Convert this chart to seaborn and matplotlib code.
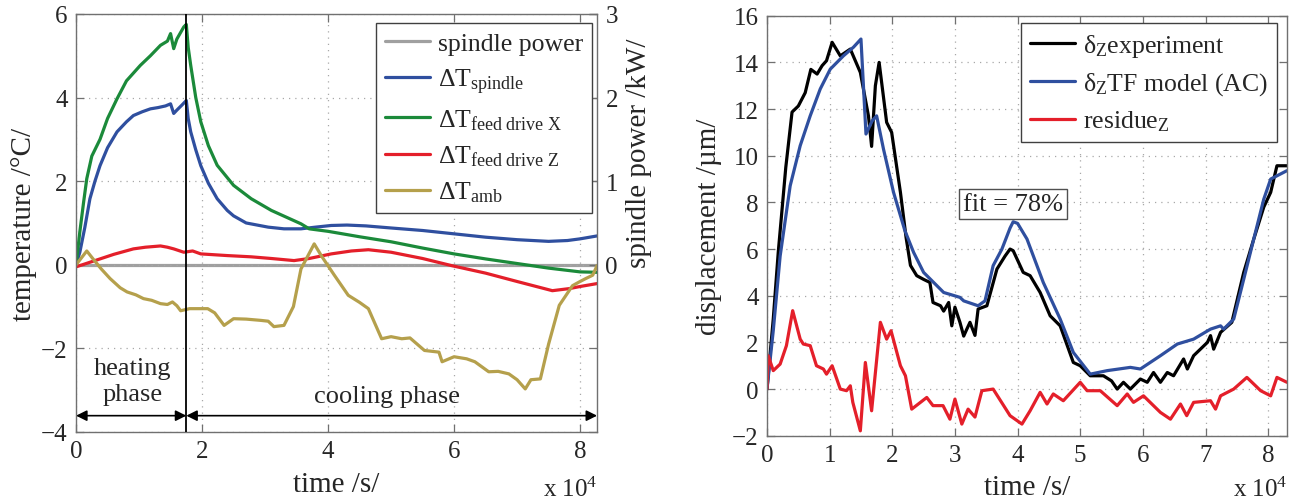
import matplotlib
matplotlib.use("Agg")
import matplotlib.pyplot as plt
import seaborn as sns

sns.set_style("ticks")
plt.rcParams["font.family"] = ["Liberation Serif", "DejaVu Serif"]
plt.rcParams["mathtext.fontset"] = "custom"
plt.rcParams["mathtext.rm"] = "Liberation Serif"
plt.rcParams["mathtext.it"] = "Liberation Serif:italic"

# ---- left panel: temperatures (time in 1e4 s) ----
power_t = [0, 8.3]
power_kw = [0, 0]

spindle_t = [0, 0.06, 0.14, 0.22, 0.3, 0.38, 0.5, 0.65, 0.8, 0.91, 1.05, 1.18, 1.3, 1.42, 1.5,
             1.55, 1.6, 1.68, 1.75, 1.78, 1.82, 1.9, 1.98, 2.1, 2.24, 2.4, 2.5, 2.7, 3.05, 3.3,
             3.57, 3.8, 4.05, 4.3, 4.6, 5.0, 5.5, 6.0, 6.5, 7.0, 7.5, 7.8, 8.0, 8.27]
spindle_dT = [0, 0.3, 0.9, 1.58, 2.0, 2.37, 2.8, 3.18, 3.42, 3.57, 3.66, 3.73, 3.76, 3.8, 3.85,
              3.62, 3.7, 3.82, 3.93, 3.5, 3.18, 2.75, 2.37, 1.95, 1.58, 1.3, 1.17, 1.0, 0.9, 0.86,
              0.86, 0.9, 0.94, 0.95, 0.93, 0.88, 0.82, 0.74, 0.66, 0.6, 0.56, 0.58, 0.62, 0.69]

feedx_t = [0, 0.06, 0.12, 0.17, 0.25, 0.38, 0.5, 0.65, 0.8, 1.02, 1.18, 1.34, 1.45, 1.5, 1.55,
           1.6, 1.71, 1.75, 1.78, 1.82, 1.9, 1.98, 2.1, 2.24, 2.5, 2.78, 3.1, 3.57, 3.7, 4.0,
           4.5, 5.0, 5.5, 6.0, 6.5, 7.0, 7.5, 8.0, 8.27]
feedx_dT = [0, 0.79, 1.5, 2.06, 2.6, 3.0, 3.5, 3.97, 4.4, 4.77, 5.0, 5.25, 5.35, 5.53, 5.17,
            5.4, 5.69, 5.75, 5.2, 4.77, 4.0, 3.42, 2.85, 2.38, 1.9, 1.58, 1.3, 0.98, 0.86, 0.8,
            0.67, 0.55, 0.4, 0.26, 0.14, 0.03, -0.08, -0.17, -0.18]

feedz_t = [0, 0.2, 0.38, 0.6, 0.91, 1.1, 1.34, 1.45, 1.55, 1.71, 1.85, 1.98, 2.4, 2.78, 3.1,
           3.46, 3.7, 4.05, 4.37, 4.64, 5.0, 5.5, 5.96, 6.5, 7.0, 7.56, 7.83, 8.0, 8.27]
feedz_dT = [-0.05, 0.05, 0.14, 0.25, 0.38, 0.42, 0.45, 0.42, 0.38, 0.3, 0.33, 0.26, 0.22, 0.19,
            0.15, 0.1, 0.15, 0.26, 0.33, 0.36, 0.3, 0.15, -0.02, -0.2, -0.4, -0.62, -0.57,
            -0.52, -0.45]

amb_t = [0, 0.17, 0.27, 0.4, 0.54, 0.7, 0.81, 0.95, 1.07, 1.2, 1.34, 1.45, 1.53, 1.6, 1.66,
         1.8, 2.09, 2.2, 2.35, 2.5, 2.7, 2.93, 3.05, 3.14, 3.3, 3.45, 3.57, 3.78, 3.9, 4.1,
         4.32, 4.5, 4.64, 4.85, 5.0, 5.17, 5.3, 5.53, 5.76, 5.81, 6.0, 6.2, 6.33, 6.55, 6.7,
         6.87, 7.0, 7.13, 7.22, 7.37, 7.5, 7.67, 7.88, 8.0, 8.09, 8.2, 8.27]
amb_dT = [0, 0.33, 0.14, -0.1, -0.33, -0.55, -0.65, -0.72, -0.81, -0.85, -0.93, -0.95, -0.89,
          -0.98, -1.1, -1.05, -1.05, -1.15, -1.45, -1.29, -1.3, -1.33, -1.35, -1.48, -1.45,
          -1.0, -0.1, 0.5, 0.2, -0.25, -0.73, -0.9, -1.05, -1.77, -1.72, -1.77, -1.75, -2.05,
          -2.09, -2.32, -2.2, -2.25, -2.32, -2.56, -2.55, -2.61, -2.75, -2.97, -2.75, -2.73,
          -1.9, -0.97, -0.5, -0.4, -0.33, -0.25, -0.02]

# ---- right panel: displacement (time in 1e4 s) ----
exp_t = [0, 0.1, 0.18, 0.3, 0.4, 0.5, 0.61, 0.7, 0.8, 0.88, 0.95, 1.04, 1.17, 1.33, 1.49, 1.62,
         1.67, 1.73, 1.79, 1.91, 1.99, 2.13, 2.22, 2.29, 2.39, 2.5, 2.6, 2.65, 2.77, 2.82, 2.9,
         2.95, 3.0, 3.08, 3.14, 3.19, 3.24, 3.32, 3.37, 3.51, 3.67, 3.8, 3.88, 3.93, 4.09, 4.2,
         4.36, 4.52, 4.68, 4.89, 5.0, 5.16, 5.37, 5.5, 5.59, 5.69, 5.8, 5.96, 6.07, 6.17, 6.28,
         6.39, 6.49, 6.65, 6.71, 6.81, 7.03, 7.08, 7.13, 7.24, 7.42, 7.61, 7.77, 7.93, 8.04,
         8.14, 8.3]
exp_um = [0, 3.0, 5.87, 9.5, 11.87, 12.13, 12.7, 13.7, 13.5, 13.86, 14.07, 14.86, 14.28, 14.57,
          13.57, 11.7, 10.4, 13.0, 14.0, 11.43, 11.0, 8.43, 6.5, 5.3, 4.86, 4.7, 4.57, 3.71,
          3.57, 3.34, 3.71, 2.71, 3.51, 2.86, 2.27, 2.57, 2.86, 2.3, 3.43, 3.57, 5.14, 5.7, 6.0,
          5.93, 5.0, 4.86, 4.14, 3.14, 2.71, 1.14, 1.0, 0.57, 0.57, 0.35, 0.0, 0.29, 0.0, 0.43,
          0.29, 0.71, 0.29, 0.71, 0.57, 1.29, 0.86, 1.43, 2.0, 2.29, 1.71, 2.43, 2.86, 5.0,
          6.43, 7.8, 8.43, 9.57, 9.57]

model_t = [0, 0.1, 0.21, 0.37, 0.53, 0.69, 0.85, 1.01, 1.22, 1.38, 1.5, 1.58, 1.68, 1.75, 1.86,
           2.02, 2.2, 2.34, 2.5, 2.82, 3.08, 3.14, 3.37, 3.48, 3.61, 3.75, 3.88, 3.93, 4.0, 4.15,
           4.41, 4.68, 4.89, 5.16, 5.43, 5.8, 5.96, 6.28, 6.55, 6.81, 7.08, 7.24, 7.29, 7.45,
           7.61, 7.77, 7.93, 8.04, 8.3]
model_um = [0, 2.5, 5.7, 8.71, 10.43, 11.71, 12.86, 13.71, 14.28, 14.65, 15.0, 10.93, 11.5,
            11.71, 10.28, 8.43, 6.8, 5.86, 5.0, 4.14, 3.93, 3.78, 3.57, 3.78, 5.29, 6.0, 6.9,
            7.17, 7.1, 6.43, 4.57, 3.0, 1.57, 0.64, 0.79, 0.93, 0.86, 1.43, 1.93, 2.14, 2.57,
            2.71, 2.57, 3.0, 4.71, 6.43, 8.14, 9.0, 9.36]

res_t = [0, 0.02, 0.1, 0.21, 0.31, 0.41, 0.53, 0.58, 0.69, 0.79, 0.9, 0.95, 1.04, 1.17, 1.27,
         1.33, 1.37, 1.49, 1.57, 1.67, 1.81, 1.91, 1.98, 2.13, 2.21, 2.31, 2.55, 2.65, 2.81,
         2.92, 3.0, 3.11, 3.21, 3.32, 3.43, 3.61, 3.88, 4.07, 4.2, 4.36, 4.47, 4.57, 4.73, 5.0,
         5.11, 5.32, 5.59, 5.75, 5.85, 6.01, 6.28, 6.44, 6.6, 6.7, 6.81, 7.08, 7.16, 7.24,
         7.45, 7.66, 7.88, 8.04, 8.14, 8.3]
res_um = [0, 1.43, 0.79, 1.07, 1.86, 3.36, 2.14, 1.93, 1.86, 1.0, 0.86, 0.64, 1.0, 0.0, -0.07,
          0.14, -0.57, -1.79, 1.14, -0.93, 2.86, 2.14, 2.5, 1.0, 0.57, -0.86, -0.36, -0.71,
          -0.71, -1.29, -0.43, -1.5, -0.86, -1.2, -0.07, 0.0, -1.14, -1.5, -0.93, -0.14, -0.64,
          -0.21, -0.5, 0.29, -0.07, -0.07, -0.71, -0.21, -0.57, -0.29, -1.0, -1.29, -0.64,
          -1.14, -0.57, -0.5, -0.86, -0.29, 0.0, 0.5, -0.07, -0.29, 0.5, 0.29]

phase_switch = 1.75
fit_label = "fit = 78%"

GRAY = "#a0a0a0"
BLUE = "#2f4f9f"
GREEN = "#1b8a3a"
RED = "#e41f2a"
OLIVE = "#b5a04c"
SPINE = "#707070"
LW = 2.3
TICK_FS = 18
LABEL_FS = 21
LEG_FS = 18.5


def _style_axes(ax):
    for side in ["top", "bottom", "left", "right"]:
        ax.spines[side].set_color(SPINE)
        ax.spines[side].set_linewidth(1.0)
    ax.grid(True, linestyle=(0, (1, 4)), color="#a8a8a8", linewidth=0.9)
    ax.tick_params(direction="in", length=6, width=0.9, color=SPINE,
                   top=True, right=True, labelsize=TICK_FS, pad=6)


def _legend(ax, handles, labels, anchor):
    leg = ax.legend(handles, labels, loc="upper right", fontsize=LEG_FS, frameon=True,
                    fancybox=False, edgecolor="#404040", framealpha=1, handlelength=1.75,
                    handletextpad=0.3, borderpad=0.35, labelspacing=0.45,
                    borderaxespad=0, bbox_to_anchor=anchor)
    leg.get_frame().set_linewidth(1.0)
    return leg


fig = plt.figure(figsize=(12.98, 5.02), dpi=100)

# ---------------- left panel ----------------
ax = fig.add_axes([0.0586, 0.1375, 0.4014, 0.8327])
ax2 = ax.twinx()
ax.set_zorder(ax2.get_zorder() + 1)
ax.patch.set_visible(False)

sns.lineplot(x=power_t, y=power_kw, ax=ax2, color=GRAY, lw=LW, legend=False)
sns.lineplot(x=spindle_t, y=spindle_dT, ax=ax, color=BLUE, lw=LW, legend=False)
sns.lineplot(x=feedx_t, y=feedx_dT, ax=ax, color=GREEN, lw=LW, legend=False)
sns.lineplot(x=feedz_t, y=feedz_dT, ax=ax, color=RED, lw=LW, legend=False)
sns.lineplot(x=amb_t, y=amb_dT, ax=ax, color=OLIVE, lw=LW, legend=False)

ax.set_xlim(0, 8.27)
ax.set_ylim(-4, 6)
ax.set_xticks([0, 2, 4, 6, 8])
ax.set_yticks([-4, -2, 0, 2, 4, 6])
ax2.set_ylim(-2, 3)
ax2.set_yticks([0, 1, 2, 3])
_style_axes(ax)
ax2.tick_params(direction="in", length=6, width=0.9, color=SPINE, labelsize=TICK_FS, pad=6)
for side in ax2.spines:
    ax2.spines[side].set_visible(False)

ax.set_xlabel("time /s/", fontsize=LABEL_FS, labelpad=6)
ax.set_ylabel("temperature /°C/", fontsize=LABEL_FS, labelpad=3)
ax2.set_ylabel("spindle power /kW/", fontsize=LABEL_FS)
ax2.yaxis.set_label_coords(1.055, 0.67)
ax.text(1.0, -0.153, r"x 10$^{4}$", transform=ax.transAxes, ha="right", va="baseline",
        fontsize=TICK_FS)

ax.axvline(phase_switch, color="black", lw=1.3, zorder=5)
arrow = dict(arrowstyle="<|-|>", color="black", lw=1.2, mutation_scale=16,
             shrinkA=0, shrinkB=0)
ax.annotate("", xy=(0, -3.61), xytext=(phase_switch, -3.61), arrowprops=arrow)
ax.annotate("", xy=(phase_switch, -3.61), xytext=(8.27, -3.61), arrowprops=arrow)
ax.text(0.9, -2.78, "heating\nphase", ha="center", va="center", fontsize=19,
        linespacing=1.2)
ax.text(4.93, -3.13, "cooling phase", ha="center", va="center", fontsize=19)

handles = ax2.get_lines()[:1] + ax.get_lines()[:4]
labels = ["spindle power", r"ΔT$_{\mathrm{spindle}}$", r"ΔT$_{\mathrm{feed\ drive\ X}}$",
          r"ΔT$_{\mathrm{feed\ drive\ Z}}$", r"ΔT$_{\mathrm{amb}}$"]
_legend(ax, handles, labels, (0.990, 0.978))

# ---------------- right panel ----------------
bx = fig.add_axes([0.5909, 0.130, 0.4006, 0.8367])
sns.lineplot(x=exp_t, y=exp_um, ax=bx, color="black", lw=LW, legend=False)
sns.lineplot(x=model_t, y=model_um, ax=bx, color=BLUE, lw=LW, legend=False)
sns.lineplot(x=res_t, y=res_um, ax=bx, color=RED, lw=LW, legend=False)

bx.set_xlim(0, 8.3)
bx.set_ylim(-2, 16)
bx.set_xticks(range(0, 9))
bx.set_yticks(range(-2, 17, 2))
_style_axes(bx)
bx.set_xlabel("time /s/", fontsize=LABEL_FS, labelpad=6)
bx.set_ylabel("displacement /µm/", fontsize=LABEL_FS, labelpad=7)
bx.text(1.0, -0.144, r"x 10$^{4}$", transform=bx.transAxes, ha="right", va="baseline",
        fontsize=TICK_FS)
bx.text(3.93, 7.93, fit_label, ha="center", va="center", fontsize=19,
        bbox=dict(boxstyle="square,pad=0.15", facecolor="white", edgecolor="#505050", lw=1.0))

labels_r = [r"δ$_{\mathrm{Z}}$experiment", r"δ$_{\mathrm{Z}}$TF model (AC)", r"residue$_{\mathrm{Z}}$"]
_legend(bx, bx.get_lines()[:3], labels_r, (0.981, 0.983))

fig.savefig("out.png", dpi=100)
